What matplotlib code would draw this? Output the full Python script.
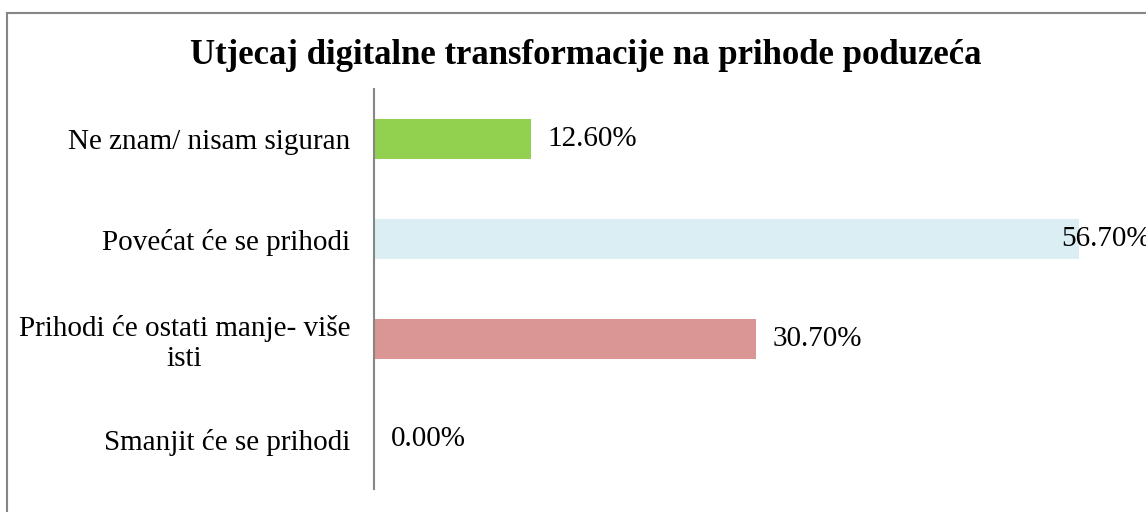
import matplotlib
matplotlib.use('Agg')
import matplotlib.pyplot as plt
from matplotlib.lines import Line2D

# data (bottom to top)
categories = ['Smanjit će se prihodi', 'Prihodi će ostati manje- više\nisti',
              'Povećat će se prihodi', 'Ne znam/ nisam siguran']
values = [0.0, 30.7, 56.7, 12.6]
colors = ['#4F81BD', '#D99694', '#DAEEF3', '#92D050']
title = 'Utjecaj digitalne transformacije na prihode poduzeća'

plt.rcParams['font.family'] = ['Liberation Serif', 'DejaVu Serif']

W, H = 1146, 512
fig = plt.figure(figsize=(W/100., H/100.), dpi=100)
ax = fig.add_axes([374./W, 23./H, (W-374.)/W, 400./H])

ypos = range(len(categories))
ax.barh(ypos, values, height=0.4, color=colors)
ax.set_ylim(-0.5, 3.5)
ax.set_xlim(0, 56.7*772/705.)

fs = 21
for y, v in zip(ypos, values):
    if v > 50:
        # label doesn't fit outside, excel pushes it back over the bar
        ax.annotate('%.2f%%' % v, (v, y), xytext=(-13, 0), textcoords='offset points',
                    ha='left', va='center', fontsize=fs, annotation_clip=False)
    else:
        ax.annotate('%.2f%%' % v, (v, y), xytext=(12, 0), textcoords='offset points',
                    ha='left', va='center', fontsize=fs)

ax.set_yticks(list(ypos))
ax.set_yticklabels(categories, fontsize=fs, multialignment='center', linespacing=1.15)
ax.tick_params(axis='y', length=0, pad=17)
ax.set_xticks([])
for s in ['top', 'right', 'bottom']:
    ax.spines[s].set_visible(False)
ax.spines['left'].set_color('#868686')
ax.spines['left'].set_linewidth(1.5)

fig.text(586./W, 1-56./H, title, ha='center', va='center', fontsize=25, fontweight='bold')

# chart area border (only left and top visible in the crop)
fig.add_artist(Line2D([7./W, 7./W], [0, 1-13./H], color='#868686', lw=1.5, transform=fig.transFigure))
fig.add_artist(Line2D([7./W, 1], [1-13./H, 1-13./H], color='#868686', lw=1.5, transform=fig.transFigure))

plt.savefig('out.png', dpi=100)
